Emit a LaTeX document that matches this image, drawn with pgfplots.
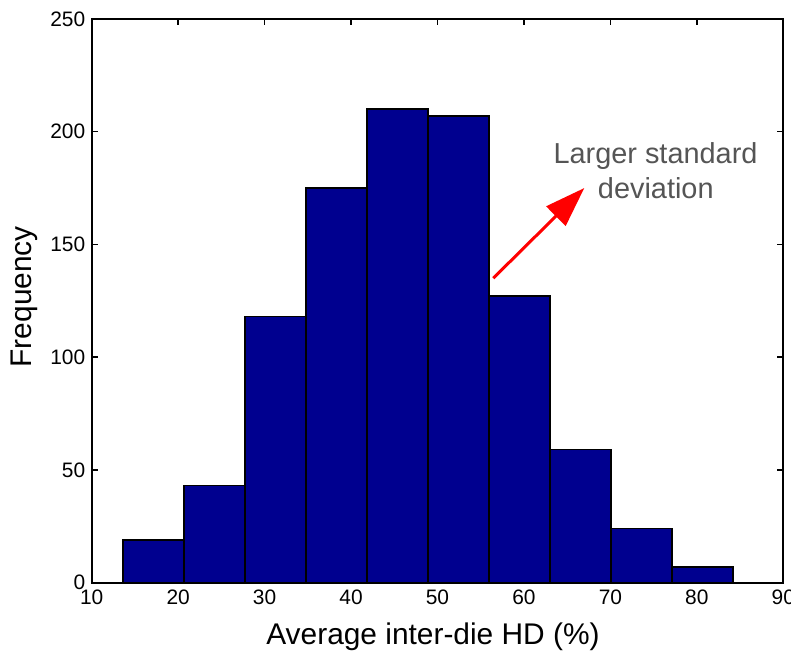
\documentclass[border=0pt]{standalone}
\usepackage{fontspec}
\setmainfont{Liberation Sans}
\usepackage{pgfplots}
\pgfplotsset{compat=1.18}
\usetikzlibrary{arrows.meta}

\definecolor{barblue}{RGB}{0,0,143}
\definecolor{annogray}{RGB}{85,85,85}
\definecolor{arrowred}{RGB}{255,0,0}

\pgfplotstableread{
x      y
13.66  19
20.71  43
27.76  118
34.81  175
41.86  210
48.91  207
55.96  127
63.01  59
70.06  24
77.11  7
84.16  7
}\histdata

\begin{document}
\begin{tikzpicture}
\begin{axis}[
  at={(0,0)}, anchor=south west,
  scale only axis,
  width=691.6bp, height=563.5bp,
  xmin=10, xmax=90, ymin=0, ymax=250,
  xtick={10,20,...,90}, ytick={0,50,...,250},
  minor tick num=0,
  tick align=inside,
  major tick length=6bp,
  axis line style={line width=2bp},
  every tick/.style={black, line width=1.6bp},
  /pgf/number format/assume math mode=true,
  ticklabel style={font=\fontsize{21}{25}\selectfont},
  yticklabel style={xshift=-3bp},
  xticklabel style={yshift=-4bp},
  xlabel={Average inter-die HD (\%)},
  ylabel={Frequency},
  label style={font=\fontsize{30}{36}\selectfont},
  xlabel style={at={(axis description cs:0.4935,-0.1109)}, anchor=base},
  ylabel style={at={(axis description cs:-0.0868,0.507)}, anchor=base, rotate=0},
  clip=false,
]
\addplot[ybar interval, fill=barblue, draw=black, line width=1.8bp] table[x=x, y=y] {\histdata};

\draw[arrowred, line width=3bp, -{Triangle[length=40bp, width=27bp]}]
  (axis cs:56.45,135.0) -- (axis cs:66.98,175.0);

\node[annogray, font=\fontsize{29}{34}\selectfont, anchor=base, inner sep=0pt]
  at (axis cs:75.22,186.1) {Larger standard};
\node[annogray, font=\fontsize{29}{34}\selectfont, anchor=base, inner sep=0pt]
  at (axis cs:75.25,170.5) {deviation};
\end{axis}
\pgfresetboundingbox
\path[use as bounding box] (-91.7bp,-69.5bp) rectangle (699.3bp,582.5bp);
\end{tikzpicture}
\end{document}
